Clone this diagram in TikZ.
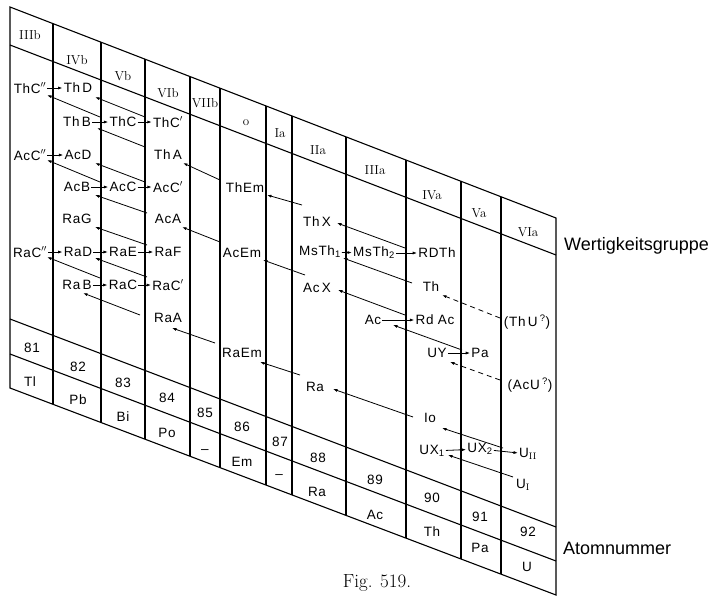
\documentclass[tikz,border=0pt]{standalone}
\usepackage{fontspec}
\setsansfont{Liberation Sans}
\newfontfamily\lblfont[LetterSpace=5]{Liberation Sans}
\usetikzlibrary{arrows.meta}

\begin{document}
\begin{tikzpicture}[x=1pt, y=-1pt, >={Latex[length=4.5pt,width=3pt]},
    every node/.style={inner sep=1pt},
    elem/.style={font=\lblfont\fontsize{13.5}{15}\selectfont},
    grp/.style={font=\rmfamily\fontsize{13}{15}\selectfont},
    side/.style={font=\sffamily\fontsize{18}{20}\selectfont, anchor=west},
    frame/.style={line width=1.1pt},
    decay/.style={->, line width=0.8pt},
    guess/.style={->, line width=0.8pt, dash pattern=on 5pt off 4pt}]

    \useasboundingbox (0,0) rectangle (719,597);

    % Frame
    \draw[frame] (10,7) -- (556,218) -- (556,595) -- (10,388) -- cycle;
    \draw[frame] (10,45) -- (556,255);
    \draw[frame] (10,319) -- (556,527);
    \draw[frame] (10,354) -- (556,561);

    % Columns
    \begin{scope}
        \clip (10,7) -- (556,218) -- (556,595) -- (10,388) -- cycle;
        \foreach \x in {53,101,145,190,220,266,292,346,406,461,501}
            \draw[frame] (\x,0) -- (\x,600);
    \end{scope}

    % Groups
    \node[grp] (g3b) at (30,35) {IIIb};
    \node[grp] (g4b) at (77,60) {IVb};
    \node[grp] (g5b) at (123,76) {Vb};
    \node[grp] (g6b) at (168,93) {VIb};
    \node[grp] (g7b) at (205,103) {VIIb};
    \node[grp] (g0) at (246,123) {o};
    \node[grp] (g1a) at (280,133) {Ia};
    \node[grp] (g2a) at (318,150) {IIa};
    \node[grp] (g3a) at (375,170) {IIIa};
    \node[grp] (g4a) at (432,195) {IVa};
    \node[grp] (g5a) at (479,213) {Va};
    \node[grp] (g6a) at (528,232) {VIa};

    % Thorium series
    \node[elem] (ThCpp) at (30,88) {ThC$''$};
    \node[elem] (ThD) at (78,88) {Th\,D};
    \node[elem] (ThB) at (77,122) {Th\,B};
    \node[elem] (ThC) at (123,122) {ThC};
    \node[elem] (ThCp) at (168,122) {ThC$'$};
    \node[elem] (ThA) at (168,155) {Th\,A};
    \node[elem] (ThEm) at (245,188) {ThEm};
    \node[elem] (ThX) at (317,222) {Th\,X};
    \node[elem] (MsThI) at (320,252) {MsTh\textsubscript{1}};
    \node[elem] (MsThII) at (374,253) {MsTh\textsubscript{2}};
    \node[elem] (RDTh) at (437,253) {RDTh};
    \node[elem] (Th) at (431,287) {Th};
    \node[elem] (ThU) at (527,322) {(Th\,U\,\textsuperscript{?})};

    % Actinium series
    \node[elem] (AcCpp) at (30,155) {AcC$''$};
    \node[elem] (AcD) at (78,155) {AcD};
    \node[elem] (AcB) at (77,187) {AcB};
    \node[elem] (AcC) at (123,187) {AcC};
    \node[elem] (AcCp) at (168,187) {AcC$'$};
    \node[elem] (AcA) at (168,219) {AcA};
    \node[elem] (AcEm) at (242,253) {AcEm};
    \node[elem] (AcX) at (317,288) {Ac\,X};
    \node[elem] (Ac) at (373,320) {Ac};
    \node[elem] (RdAc) at (435,320) {Rd Ac};
    \node[elem] (UY) at (437,353) {UY};
    \node[elem] (Pa) at (480,353) {Pa};
    \node[elem] (AcU) at (530,385) {(AcU\,\textsuperscript{?})};

    % Radium series
    \node[elem] (RaG) at (77,219) {RaG};
    \node[elem] (RaCpp) at (30,252) {RaC$''$};
    \node[elem] (RaD) at (78,252) {RaD};
    \node[elem] (RaE) at (123,252) {RaE};
    \node[elem] (RaF) at (168,252) {RaF};
    \node[elem] (RaB) at (77,285) {Ra\,B};
    \node[elem] (RaC) at (123,285) {RaC};
    \node[elem] (RaCp) at (168,285) {RaC$'$};
    \node[elem] (RaA) at (168,318) {RaA};
    \node[elem] (RaEm) at (242,353) {RaEm};
    \node[elem] (Ra) at (315,387) {Ra};
    \node[elem] (Io) at (430,418) {Io};
    \node[elem] (UXI) at (432,451) {UX\textsubscript{1}};
    \node[elem] (UXII) at (480,449) {UX\textsubscript{2}};
    \node[elem] (UII) at (528,454) {U\textsubscript{\rmfamily II}};
    \node[elem] (UI) at (523,485) {U\textsubscript{\rmfamily I}};

    % Atomic numbers
    \node[elem] (n81) at (32,348) {81};
    \node[elem] (n82) at (78,367) {82};
    \node[elem] (n83) at (123,383) {83};
    \node[elem] (n84) at (167,398) {84};
    \node[elem] (n85) at (205,413) {85};
    \node[elem] (n86) at (242,427) {86};
    \node[elem] (n87) at (280,442) {87};
    \node[elem] (n88) at (318,458) {88};
    \node[elem] (n89) at (375,480) {89};
    \node[elem] (n90) at (432,498) {90};
    \node[elem] (n91) at (480,517) {91};
    \node[elem] (n92) at (528,532) {92};
    \node[elem] (sTl) at (30,382) {Tl};
    \node[elem] (sPb) at (78,400) {Pb};
    \node[elem] (sBi) at (123,417) {Bi};
    \node[elem] (sPo) at (167,433) {Po};
    \node[elem] (s85) at (205,452) {\textendash};
    \node[elem] (sEm) at (242,462) {Em};
    \node[elem] (s87) at (279,477) {\textendash};
    \node[elem] (sRa) at (317,492) {Ra};
    \node[elem] (sAc) at (375,515) {Ac};
    \node[elem] (sTh) at (432,532) {Th};
    \node[elem] (sPa) at (480,548) {Pa};
    \node[elem] (sU) at (527,567) {U};

    % Side labels
    \node[side] (wert) at (563,246) {Wertigkeitsgruppe};
    \node[side] (atom) at (562,548) {Atomnummer};
    \node[font=\rmfamily\fontsize{19}{22}\selectfont] (fig) at (377,583) {Fig. \oldstylenums{519}.};

    % Beta decays
    \draw[decay] (ThCpp) -- (ThD);
    \draw[decay] (ThB) -- (ThC);
    \draw[decay] (ThC) -- (ThCp);
    \draw[decay] (MsThI) -- (MsThII);
    \draw[decay] (MsThII) -- (RDTh);
    \draw[decay] (AcCpp) -- (AcD);
    \draw[decay] (AcB) -- (AcC);
    \draw[decay] (AcC) -- (AcCp);
    \draw[decay] (Ac) -- (RdAc);
    \draw[decay] (UY) -- (Pa);
    \draw[decay] (RaCpp) -- (RaD);
    \draw[decay] (RaD) -- (RaE);
    \draw[decay] (RaE) -- (RaF);
    \draw[decay] (RaB) -- (RaC);
    \draw[decay] (RaC) -- (RaCp);
    \draw[decay] (UXI) -- (UXII);
    \draw[decay] (UXII) -- (UII);

    % Alpha decays, thorium
    \draw[decay] ([shift={(-23,-5)}]ThC.center) -- ([shift={(17,7)}]ThCpp.center);
    \draw[decay] ([shift={(-23,-5)}]ThCp.center) -- ([shift={(17,9)}]ThD.center);
    \draw[decay] ([shift={(-23,-8)}]ThA.center) -- ([shift={(20,6)}]ThB.center);
    \draw[decay] ([shift={(-25,-8)}]ThEm.center) -- ([shift={(15,8)}]ThA.center);
    \draw[decay] ([shift={(-15,-17)}]ThX.center) -- ([shift={(22,7)}]ThEm.center);
    \draw[decay] ([shift={(-32,-5)}]RDTh.center) -- ([shift={(20,1)}]ThX.center);
    \draw[decay] ([shift={(-19,-4)}]Th.center) -- ([shift={(23,6)}]MsThI.center);
    \draw[guess] ([shift={(-27,-4)}]ThU.center) -- ([shift={(11,8)}]Th.center);

    % Alpha decays, actinium
    \draw[decay] ([shift={(-23,-5)}]AcC.center) -- ([shift={(17,5)}]AcCpp.center);
    \draw[decay] ([shift={(-23,-5)}]AcCp.center) -- ([shift={(17,8)}]AcD.center);
    \draw[decay] ([shift={(-21,-6)}]AcA.center) -- ([shift={(18,8)}]AcB.center);
    \draw[decay] ([shift={(-22,-11)}]AcEm.center) -- ([shift={(14,8)}]AcA.center);
    \draw[decay] ([shift={(-12,-13)}]AcX.center) -- ([shift={(21,7)}]AcEm.center);
    \draw[decay] ([shift={(-30,-5)}]RdAc.center) -- ([shift={(21,2)}]AcX.center);
    \draw[decay] ([shift={(-18,-3)}]Pa.center) -- ([shift={(20,5)}]Ac.center);
    \draw[guess] ([shift={(-30,-5)}]AcU.center) -- ([shift={(13,9)}]UY.center);

    % Alpha decays, radium
    \draw[decay] ([shift={(-21,-7)}]RaF.center) -- ([shift={(18,8)}]RaG.center);
    \draw[decay] ([shift={(-23,-7)}]RaC.center) -- ([shift={(17,5)}]RaCpp.center);
    \draw[decay] ([shift={(-21,-8)}]RaCp.center) -- ([shift={(17,6)}]RaD.center);
    \draw[decay] ([shift={(-28,-3)}]RaA.center) -- ([shift={(6,8)}]RaB.center);
    \draw[decay] ([shift={(-27,-10)}]RaEm.center) -- ([shift={(4,10)}]RaA.center);
    \draw[decay] ([shift={(-15,-12)}]Ra.center) -- ([shift={(18,9)}]RaEm.center);
    \draw[decay] ([shift={(-17,-1)}]Io.center) -- ([shift={(18,2)}]Ra.center);
    \draw[decay] ([shift={(-25,-6)}]UII.center) -- ([shift={(12,10)}]Io.center);
    \draw[decay] ([shift={(-10,-8)}]UI.center) -- ([shift={(16,4)}]UXI.center);
\end{tikzpicture}
\end{document}
